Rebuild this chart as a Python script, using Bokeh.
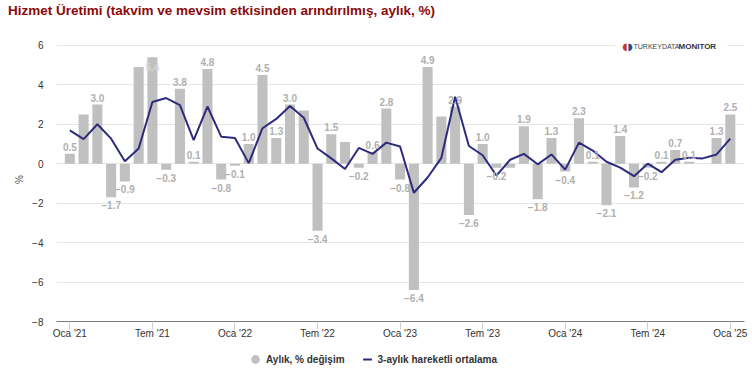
from bokeh.plotting import figure
from bokeh.layouts import column
from bokeh.models import (ColumnDataSource, FixedTicker, Range1d, Label, Legend,
                          LegendItem, BoxAnnotation, Div)
from bokeh.embed import file_html
from bokeh.resources import INLINE
from bokeh.core.properties import value

title_text = "Hizmet Üretimi (takvim ve mevsim etkisinden arındırılmış, aylık, %)"
tick_labels = ["Oca '21", "Tem '21", "Oca '22", "Tem '22", "Oca '23",
               "Tem '23", "Oca '24", "Tem '24", "Oca '25"]
y_ticks = [-8, -6, -4, -2, 0, 2, 4, 6]
series_names = ["Aylık, % değişim", "3-aylık hareketli ortalama"]

# monthly % change, Jan 2021 .. Jan 2025
monthly_change = [0.5, 2.5, 3.0, -1.7, -0.9, 4.9, 5.4, -0.3, 3.8, 0.1, 4.8, -0.8,
                  -0.1, 1.0, 4.5, 1.3, 3.0, 2.7, -3.4, 1.5, 1.1, -0.2, 0.6, 2.8,
                  -0.8, -6.4, 4.9, 2.4, 2.9, -2.6, 1.0, -0.2, -0.2, 1.9, -1.8, 1.3,
                  -0.4, 2.3, 0.1, -2.1, 1.4, -1.2, -0.2, 0.1, 0.7, 0.1, 0.0, 1.3,
                  2.5]
# 3-month moving average
moving_avg_3m = [1.69, 1.25, 2.0, 1.27, 0.13, 0.77, 3.13, 3.33, 2.97, 1.2, 2.9, 1.37,
                 1.3, 0.03, 1.8, 2.27, 2.93, 2.33, 0.77, 0.27, -0.27, 0.8, 0.5, 1.07,
                 0.87, -1.47, -0.7, 0.3, 3.4, 0.9, 0.43, -0.6, 0.2, 0.5, -0.03, 0.47,
                 -0.3, 1.07, 0.67, 0.1, -0.2, -0.63, 0.0, -0.43, 0.2, 0.3, 0.27, 0.47,
                 1.27]
# bars whose data label is hidden (overlap) in the original
unlabelled = [1, 5, 17, 20, 27, 32, 46]

n = len(monthly_change)
idx = list(range(n))
YMIN, YMAX = y_ticks[0], y_ticks[-1]
YTOP = YMAX + 0.4   # head-room above the top grid line for the logo

BAR = "#c0c0c0"
LBL = "#b0b0b0"
NAVY = "#2d2b7c"
FONT = "Liberation Sans"
W = 752

# ---------- title strip ----------
title = Div(text=title_text, width=W, height=22, margin=0,
            styles={"font-family": FONT, "font-size": "13.5px",
                    "font-weight": "bold", "color": "#8b0a0a",
                    "padding-left": "8px", "line-height": "21px",
                    "white-space": "nowrap"})

# ---------- main chart ----------
p = figure(width=W, height=321, x_range=Range1d(-0.97, n - 1 + 1.03),
           y_range=Range1d(YMIN, YTOP), output_backend="svg", toolbar_location=None,
           min_border_left=56, min_border_right=8, min_border_top=15,
           min_border_bottom=22)
p.outline_line_color = None

p.xgrid.grid_line_color = None
p.ygrid.ticker = FixedTicker(ticks=y_ticks)
p.ygrid.grid_line_color = "#e6e6e6"

src = ColumnDataSource(dict(x=idx, top=monthly_change))
p.vbar(x="x", top="top", bottom=0, width=0.73, source=src,
       fill_color=BAR, line_color=None)
p.line(idx, moving_avg_3m, line_color=NAVY, line_width=2)


def fmt(v):
    return f"{v:.1f}".replace("-", "\u2212")


above = dict(x=[], y=[], t=[])
below = dict(x=[], y=[], t=[])
inside = dict(x=[], y=[], t=[])
for i, v in enumerate(monthly_change):
    if i in unlabelled:
        continue
    if v > YMAX - 0.75:
        d = inside
    elif v >= 0:
        d = above
    else:
        d = below
    d["x"].append(i); d["y"].append(v); d["t"].append(fmt(v))

common = dict(text="t", text_align="center", text_font=value(FONT),
              text_font_size="10px", text_font_style="bold")
p.text(x="x", y="y", source=ColumnDataSource(above), text_baseline="bottom",
       y_offset=-3, text_color=LBL, **common)
p.text(x="x", y="y", source=ColumnDataSource(below), text_baseline="top",
       y_offset=4, text_color=LBL, **common)
p.text(x="x", y="y", source=ColumnDataSource(inside), text_baseline="top",
       y_offset=6, text_color="#d8d8d8", **common)

xa = p.xaxis[0]
xa.ticker = FixedTicker(ticks=[6 * k for k in range(len(tick_labels))])
xa.major_label_overrides = {6 * k: lab for k, lab in enumerate(tick_labels)}
xa.axis_line_color = "#7a7a7a"
xa.major_tick_line_color = "#d0d0d0"
xa.major_tick_out = 8
xa.major_tick_in = 0
xa.minor_tick_line_color = None
xa.major_label_standoff = -2
xa.major_label_text_font = FONT
xa.major_label_text_font_size = "10px"
xa.major_label_text_color = "#333333"

ya = p.yaxis[0]
ya.ticker = FixedTicker(ticks=y_ticks)
ya.major_label_overrides = {t: str(t).replace("-", "\u2212") for t in y_ticks}
ya.axis_line_color = None
ya.major_tick_line_color = None
ya.minor_tick_line_color = None
ya.major_tick_out = 0
ya.major_tick_in = 0
ya.major_label_standoff = 13
ya.major_label_text_font = FONT
ya.major_label_text_font_size = "10px"
ya.major_label_text_color = "#333333"
ya.axis_label = "%"
ya.axis_label_text_font = FONT
ya.axis_label_text_font_size = "10px"
ya.axis_label_text_font_style = "normal"
ya.axis_label_text_color = "#555555"
ya.axis_label_standoff = 4

# watermark logo (white box breaks the top grid line)
p.add_layout(BoxAnnotation(left=559, right=671, bottom=271, top=284,
                           left_units="screen", right_units="screen",
                           bottom_units="screen", top_units="screen",
                           fill_color="white", fill_alpha=1, line_color=None))
p.add_layout(Label(x=566, y=275, x_units="screen", y_units="screen", text="\u25d6",
                   text_font="DejaVu Sans", text_font_size="10px",
                   text_color="#c0392b", text_baseline="alphabetic"))
p.add_layout(Label(x=571, y=275, x_units="screen", y_units="screen", text="\u25d7",
                   text_font="DejaVu Sans", text_font_size="10px",
                   text_color="#2c4a8c", text_baseline="alphabetic"))
p.add_layout(Label(x=577, y=275, x_units="screen", y_units="screen",
                   text="TURKEYDATA", text_font=FONT, text_font_size="7px",
                   text_color="#444444", text_baseline="alphabetic"))
p.add_layout(Label(x=622, y=275, x_units="screen", y_units="screen",
                   text="MONITOR", text_font=FONT, text_font_size="8px",
                   text_font_style="bold", text_color="#333333",
                   text_baseline="alphabetic"))

# ---------- legend strip (its frame is aligned with the chart frame) ----------
lf = figure(width=W, height=42, x_range=Range1d(0, 1), y_range=Range1d(0, 1),
            x_axis_type=None, y_axis_type=None, output_backend="svg",
            toolbar_location=None, min_border=0)
lf.outline_line_color = None
lf.xgrid.visible = False
lf.ygrid.visible = False
nan = float("nan")
dot = lf.scatter(x=[nan], y=[nan], marker="circle", fill_color=BAR, line_color=None)
dash = lf.scatter(x=[nan], y=[nan], marker="dash", line_color=NAVY, line_width=2)
leg = Legend(items=[LegendItem(label=series_names[0], renderers=[dot]),
                    LegendItem(label=series_names[1], renderers=[dash])],
             location=(188, 15), orientation="horizontal", padding=0, margin=0,
             spacing=11, glyph_width=22, glyph_height=22, label_height=22,
             label_standoff=0, border_line_color=None, background_fill_alpha=0,
             label_text_font=FONT, label_text_font_size="10px",
             label_text_font_style="bold", label_text_color="#333333")
lf.add_layout(leg, "center")

layout = column(title, p, lf, spacing=0)
open("out.html", "w").write(file_html(layout, INLINE))
